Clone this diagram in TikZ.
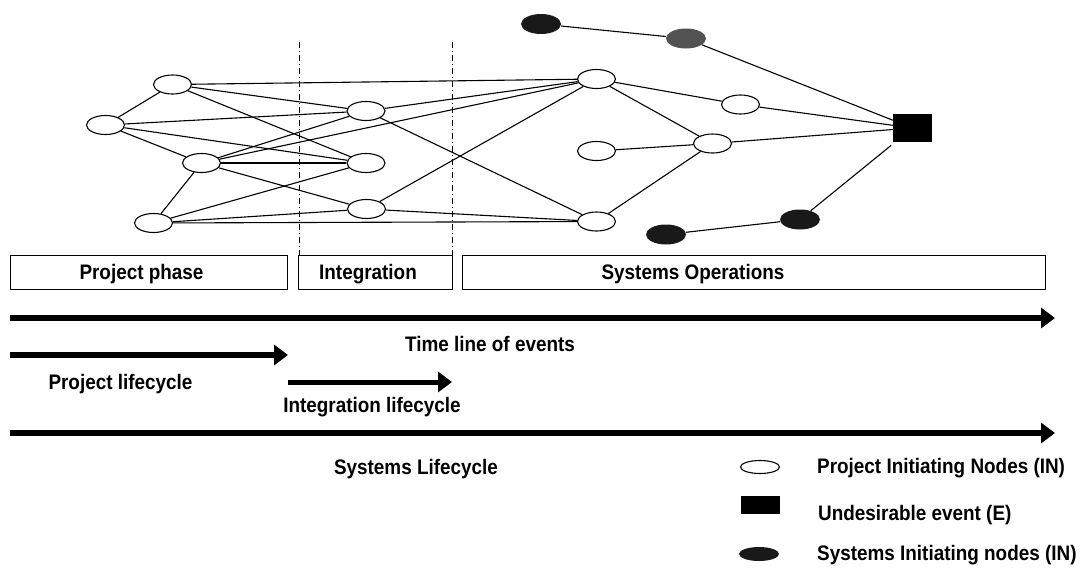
\documentclass[tikz,border=0pt]{standalone}
\usepackage{fontspec}
\setmainfont{Liberation Sans}[FakeStretch=0.9]
\usetikzlibrary{arrows.meta,shapes.geometric}
\begin{document}
\begin{tikzpicture}[x=1pt,y=-1pt,
  pn/.style={ellipse, draw, line width=1.1pt, fill=white, minimum width=38pt, minimum height=19pt, inner sep=0pt},
  sn/.style={ellipse, fill=black!90, minimum width=40pt, minimum height=20pt, inner sep=0pt},
  ev/.style={rectangle, fill=black, minimum width=39pt, minimum height=28pt, inner sep=0pt},
  edge/.style={line width=1.1pt},
  phase/.style={draw, line width=1pt, minimum height=34pt, inner sep=0pt},
  lbl/.style={font=\bfseries\fontsize{21}{24}\selectfont, inner sep=0pt},
  bigarrow/.style={line width=6pt, -{Triangle[length=14pt,width=20pt]}},
  divider/.style={line width=0.9pt, dash pattern=on 6pt off 3pt on 1pt off 3pt}]
\fill[white] (0,0) rectangle (1080,574);
\useasboundingbox (0,0) rectangle (1080,574);

% dividers
\coordinate (d1t) at (299,42); \coordinate (d1b) at (299,255);
\coordinate (d2t) at (452,42); \coordinate (d2b) at (452,255);
\draw[divider] (d1t) -- (d1b);
\draw[divider] (d2t) -- (d2b);

% project initiating nodes
\node[pn] (A) at (172.5,84.5) {};
\node[pn] (B) at (105.5,125) {};
\node[pn] (C) at (201.5,163) {};
\node[pn] (D) at (153.5,223) {};
\node[pn] (E) at (366,111) {};
\node[pn] (F) at (366,163) {};
\node[pn] (G) at (366.5,209) {};
\node[pn] (H) at (596.5,79) {};
\node[pn] (I) at (740.5,104.5) {};
\node[pn] (J) at (596.5,151) {};
\node[pn] (K) at (712.5,143.5) {};
\node[pn] (L) at (596.5,221.5) {};
% systems initiating nodes
\node[sn] (S1) at (541,24) {};
\node[sn, fill=black!68] (S2) at (686,38.5) {};
\node[sn] (S3) at (800,219.5) {};
\node[sn] (S4) at (666,234.5) {};
% undesirable event
\node[ev] (Q) at (912.5,128) {};

% edges
\draw[edge] (A) -- (B);
\draw[edge] (A) -- (E);
\draw[edge] (A) -- (F);
\draw[edge] (A) -- (H);
\draw[edge] (B) -- (E);
\draw[edge] (B) -- (F);
\draw[edge] (B) -- (C);
\draw[edge] (C) -- (D);
\draw[edge] (C) -- (E);
\draw[edge] (C) -- (F);
\draw[edge] (C) -- (G);
\draw[edge] (C) -- (H);
\draw[edge] (D) -- (F);
\draw[edge] (D) -- (G);
\draw[edge] (D) -- (L);
\draw[edge] (E) -- (H);
\draw[edge] (E) -- (L);
\draw[edge] (G) -- (H);
\draw[edge] (G) -- (L);
\draw[edge] (H) -- (I);
\draw[edge] (H) -- (K);
\draw[edge] (J) -- (K);
\draw[edge] (L) -- (K);
\draw[edge] (I) -- (Q);
\draw[edge] (K) -- (Q);
\draw[edge] (S1) -- (S2);
\draw[edge] (S2) -- (Q);
\draw[edge] (S4) -- (S3);
\draw[edge, shorten >=5pt] (S3) -- (Q);

% phase boxes
\node[phase, minimum width=277pt] (pbox) at (148.5,272) {};
\node[phase, minimum width=154pt] (ibox) at (375,272) {};
\node[phase, minimum width=583pt] (sbox) at (753.5,272) {};
\node[lbl, anchor=base] (pt) at (141.5,279.5) {Project phase};
\node[lbl, anchor=base] (it) at (368,279.5) {Integration};
\node[lbl, anchor=base] (st) at (693,279.5) {Systems Operations};

% timeline arrows
\coordinate (t0) at (10,318); \coordinate (t1) at (1055,318);
\coordinate (p0) at (10,355); \coordinate (p1) at (288,355);
\coordinate (i0) at (288,382); \coordinate (i1) at (452,382);
\coordinate (s0) at (10,433); \coordinate (s1) at (1055,433);
\draw[bigarrow] (t0) -- (t1);
\draw[bigarrow] (p0) -- (p1);
\draw[bigarrow, line width=5pt] (i0) -- (i1);
\draw[bigarrow] (s0) -- (s1);
\node[lbl, anchor=base] (tl) at (490,351.5) {Time line of events};
\node[lbl, anchor=base] (pl) at (120.5,389.5) {Project lifecycle};
\node[lbl, anchor=base] (il) at (372,412) {Integration lifecycle};
\node[lbl, anchor=base] (sl) at (416,474.5) {Systems Lifecycle};

% legend
\node[pn, minimum width=39pt, minimum height=13pt] (lg1) at (760,467) {};
\node[ev, minimum height=18pt] (lg2) at (760,505) {};
\node[sn, minimum height=14pt] (lg3) at (759,554) {};
\node[lbl, anchor=base west] (lt1) at (817,473) {Project Initiating Nodes (IN)};
\node[lbl, anchor=base west] (lt2) at (818,520) {Undesirable event (E)};
\node[lbl, anchor=base west] (lt3) at (817,560) {Systems Initiating nodes (IN)};
\end{tikzpicture}
\end{document}
